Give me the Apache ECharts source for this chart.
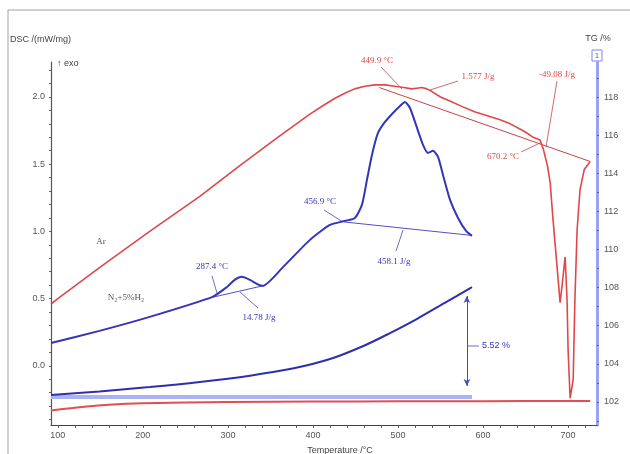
<!DOCTYPE html>
<html>
<head>
<meta charset="utf-8">
<script src="https://cdn.jsdelivr.net/npm/echarts@6/dist/echarts.min.js"></script>
<style>
  html, body { margin: 0; padding: 0; background: #fff; }
  #chart { width: 630px; height: 454px; }
</style>
</head>
<body>
<div id="chart"></div>
<script>
// DSC under Ar, [T /°C, DSC /(mW/mg)]
const dscAr = [
  [92, 0.46], [100, 0.50], [149, 0.73], [208, 1.00], [267, 1.26], [314, 1.49],
  [361, 1.71], [396, 1.87], [413, 1.94], [426, 1.99], [438, 2.03], [449, 2.06],
  [461, 2.08], [473, 2.09], [485, 2.09], [496, 2.08], [507, 2.07], [516, 2.06],
  [522, 2.065], [528, 2.07], [534, 2.06], [540, 2.04], [550, 2.0], [561, 1.97],
  [575, 1.93], [590, 1.89], [605, 1.86], [620, 1.83], [632, 1.80], [644, 1.76],
  [652, 1.73], [659, 1.70], [667, 1.68], [671, 1.61], [676, 1.48], [679, 1.36],
  [682, 1.11], [687, 0.74], [690.6, 0.47], [693, 0.60], [696.5, 0.81], [698.8, 0.49],
  [700, 0.12], [702.4, -0.24], [704, -0.24], [706, -0.10], [708, 0.49],
  [710.6, 1.01], [714, 1.31], [719, 1.46], [726, 1.52]
]
// DSC under N2+5%H2
const dscN2H2 = [
  [92, 0.17], [149, 0.26], [208, 0.364], [282, 0.513], [299, 0.587], [308, 0.639],
  [316.5, 0.662], [326, 0.639], [334, 0.61], [341, 0.595], [365, 0.736],
  [396.5, 0.937], [420, 1.048], [437.6, 1.078], [449.4, 1.10], [457.6, 1.197],
  [463.5, 1.383], [469.4, 1.569], [476.5, 1.732], [484.7, 1.814], [494.1, 1.881],
  [502.4, 1.933], [508.2, 1.963], [514.1, 1.918], [521.2, 1.792], [529.4, 1.643],
  [535.3, 1.584], [541.2, 1.599], [547.1, 1.554], [552.9, 1.42], [561.2, 1.234],
  [570.6, 1.10], [580, 1.004], [587, 0.967]
]
// TG /%
const tgN2H2 = [
  [92, 102.37], [149, 102.55], [208, 102.78], [267, 103.05], [326, 103.38],
  [376, 103.75], [420, 104.25], [460, 104.95], [490, 105.6], [522, 106.35],
  [555, 107.2], [587, 108.03]
]
const tgAr = [
  [92, 101.55], [120, 101.7], [160, 101.85], [200, 101.93], [300, 102.0],
  [400, 102.02], [500, 102.03], [600, 102.04], [700, 102.05], [726, 102.05]
]
const tgRef = [[92, 102.26], [587, 102.26]]
// evaluation baselines
const baseAr = [[478, 2.07], [726, 1.52]]
const baseN2H2Main = [[437, 1.07], [587, 0.97]]
const baseN2H2Small = [[282, 0.51], [341, 0.595]]
const massLoss = [[581, 107.56], [581, 102.84]]

const xLabels = [100, 200, 300, 400, 500, 600, 700]
const xMinor = [100, 120, 140, 160, 180, 200, 220, 240, 260, 280, 300, 320, 340, 360, 380, 400,
  420, 440, 460, 480, 500, 520, 540, 560, 580, 600, 620, 640, 660, 680, 700, 720]
const dscLabels = [0.0, 0.5, 1.0, 1.5, 2.0]
const dscMinor = [-0.4, -0.3, -0.2, -0.1, 0, 0.1, 0.2, 0.3, 0.4, 0.5, 0.6, 0.7, 0.8, 0.9, 1.0,
  1.1, 1.2, 1.3, 1.4, 1.5, 1.6, 1.7, 1.8, 1.9, 2.0, 2.1, 2.2]
const tgLabels = [102, 104, 106, 108, 110, 112, 114, 116, 118]
const tgMinor = [101, 102, 103, 104, 105, 106, 107, 108, 109, 110, 111, 112, 113, 114, 115, 116, 117, 118, 119]

const RED = '#e0474a'
const BLUE = '#3535b5'
const SANS = 'Liberation Sans, Arial, sans-serif'
const SERIF = 'Liberation Serif, Times New Roman, serif'

function line(name, data, color, width, yIdx, smooth) {
  return {
    name, type: 'line', data, yAxisIndex: yIdx,
    showSymbol: false, symbol: 'none', silent: true,
    smooth: smooth || false,
    lineStyle: { color, width }, animation: false
  }
}

const chart = echarts.init(document.getElementById('chart'))

const tgSeries = line('TG N2H2', tgN2H2, '#2f2fae', 2, 1, 0.3)
tgSeries.markLine = {
  silent: true, symbol: ['arrow', 'arrow'], symbolSize: [5, 7], animation: false,
  label: { show: false },
  lineStyle: { color: '#4a4ac0', width: 1, type: 'solid' },
  data: [[{ coord: massLoss[0] }, { coord: massLoss[1] }]]
}

function txt(x, y, s, color, align, font) {
  return {
    type: 'text', x, y,
    style: { text: s, fill: color, font: font || ('9px ' + SERIF), align: align || 'center', verticalAlign: 'middle' }
  }
}
function seg(x1, y1, x2, y2, color) {
  return { type: 'line', shape: { x1, y1, x2, y2 }, style: { stroke: color, lineWidth: 0.8 } }
}

chart.setOption({
  animation: false,
  grid: { left: 51, right: 33, top: 62, bottom: 29 },
  xAxis: {
    type: 'value', min: 92, max: 734,
    axisLine: { onZero: false, lineStyle: { color: '#444', width: 1.2 } },
    axisTick: { customValues: xMinor, length: 3, lineStyle: { color: '#555' } },
    axisLabel: { customValues: xLabels, color: '#555', fontSize: 9, fontFamily: SANS, margin: 6 },
    splitLine: { show: false }
  },
  yAxis: [
    {
      type: 'value', min: -0.44, max: 2.26, position: 'left',
      axisLine: { show: true, onZero: false, lineStyle: { color: '#555', width: 1.2 } },
      axisTick: { customValues: dscMinor, length: 2, lineStyle: { color: '#666' } },
      axisLabel: {
        customValues: dscLabels, color: '#555', fontSize: 9, fontFamily: SANS, margin: 6,
        formatter: v => v.toFixed(1)
      },
      splitLine: { show: false }
    },
    {
      type: 'value', min: 100.79, max: 119.84, position: 'right',
      axisLine: { show: true, onZero: false, lineStyle: { color: '#9ba2f2', width: 3 } },
      axisTick: { customValues: tgMinor, length: 2, lineStyle: { color: '#666' } },
      axisLabel: { customValues: tgLabels, color: '#555', fontSize: 9, fontFamily: SANS, margin: 7 },
      splitLine: { show: false }
    }
  ],
  series: [
    line('TG ref', tgRef, '#aab3f6', 4, 1),
    line('TG Ar', tgAr, '#e34e50', 2, 1, 0.3),
    tgSeries,
    line('base Ar', baseAr, '#c24444', 1, 0),
    line('base N2H2', baseN2H2Main, '#5050c0', 1, 0),
    line('base N2H2 small', baseN2H2Small, '#5050c0', 1, 0),
    line('Ar', dscAr, RED, 1.6, 0),
    line('N2+5%H2', dscN2H2, BLUE, 2, 0, 0.2)
  ],
  graphic: [
    // window frame
    seg(8, 10, 630, 10, '#8a8a8a'),
    seg(8, 10, 8, 454, '#8a8a8a'),
    // axis titles
    txt(10, 40, 'DSC /(mW/mg)', '#444', 'left', '9px ' + SANS),
    txt(57, 64, '↑ exo', '#444', 'left', '9px ' + SANS),
    txt(598, 39, 'TG /%', '#444', 'center', '9px ' + SANS),
    { type: 'rect', shape: { x: 592, y: 50, width: 10, height: 11 }, style: { fill: '#fff', stroke: '#7f86e0', lineWidth: 1 } },
    txt(597, 56, '1', '#5a5ad0', 'center', '8px ' + SANS),
    txt(340, 451, 'Temperature /°C', '#444', 'center', '9px ' + SANS),
    // curve labels
    txt(101, 242, 'Ar', '#555', 'center'),
    txt(126, 298, 'N₂+5%H₂', '#555', 'center'),
    // red annotations
    txt(377, 61, '449.9 °C', RED),
    seg(381, 67, 402, 89, '#c04848'),
    txt(478, 77, '1.577 J/g', RED),
    seg(458, 81, 430, 90, '#c04848'),
    txt(557, 75, '-49.08 J/g', RED),
    seg(557, 81, 546, 147, '#c04848'),
    txt(503, 157, '670.2 °C', RED),
    seg(521, 152, 540, 143, '#c04848'),
    // blue annotations
    txt(212, 267, '287.4 °C', BLUE),
    seg(212, 276, 217, 293, '#4848b8'),
    txt(259, 318, '14.78 J/g', BLUE),
    seg(258, 308, 240, 292, '#4848b8'),
    txt(320, 202, '456.9 °C', BLUE),
    seg(324, 210, 343, 222, '#4848b8'),
    txt(394, 262, '458.1 J/g', BLUE),
    seg(396, 251, 403, 230, '#4848b8'),
    seg(468, 346, 479, 346, '#4848b8'),
    txt(496, 346, '5.52 %', BLUE, 'center', '9px ' + SANS)
  ]
})
</script>
</body>
</html>
